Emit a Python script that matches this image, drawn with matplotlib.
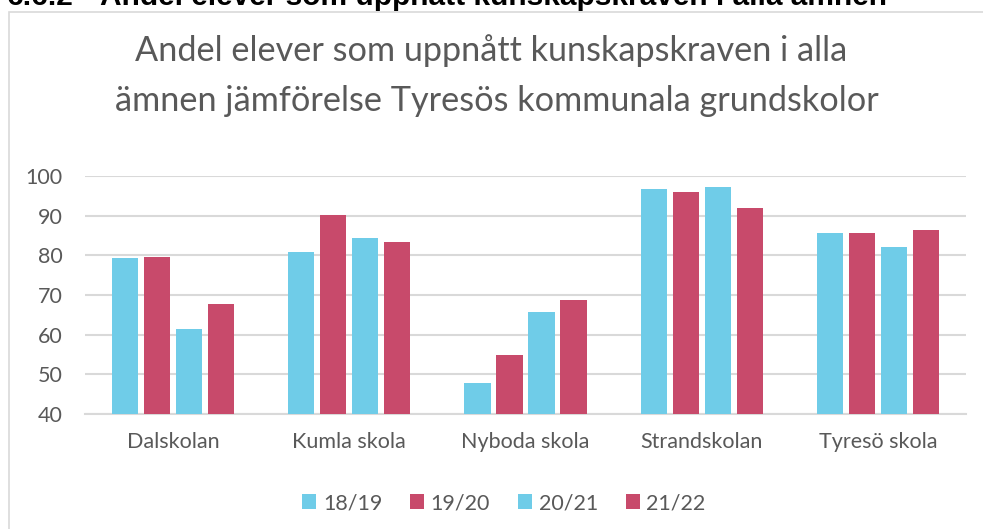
import matplotlib
matplotlib.use("Agg")
import matplotlib.pyplot as plt
import numpy as np

categories = ["Dalskolan", "Kumla skola", "Nyboda skola", "Strandskolan", "Tyresö skola"]
series_names = ["18/19", "19/20", "20/21", "21/22"]
v_1819 = [79.3, 80.8, 47.8, 96.7, 85.6]
v_1920 = [79.6, 90.2, 54.9, 96.0, 85.6]
v_2021 = [61.4, 84.4, 65.7, 97.2, 82.1]
v_2122 = [67.7, 83.4, 68.7, 91.9, 86.4]
yticks = [40, 50, 60, 70, 80, 90, 100]

series = [v_1819, v_1920, v_2021, v_2122]
colors = ["#6FCCE8", "#C84A6B", "#6FCCE8", "#C84A6B"]
txt = "#595959"
font = "Lato"

fig = plt.figure(figsize=(9.83, 5.29), dpi=100)
W, H = 983, 529

# outer chart border
border = plt.Rectangle((8.5 / W, -0.1), 1.2, (1 - 11.5 / H) + 0.1, transform=fig.transFigure,
                       fill=False, edgecolor="#d9d9d9", linewidth=1.2)
fig.add_artist(border)

# clipped heading above the chart
fig.text(7 / W, 1 - 5 / H, "6.6.2", fontsize=21.5, fontweight="bold",
         family="Liberation Sans", color="black", ha="left", va="baseline")
fig.text(100 / W, 1 - 5 / H, "Andel elever som uppnått kunskapskraven i alla ämnen",
         fontsize=21.5, fontweight="bold", family="Liberation Sans", color="black",
         ha="left", va="baseline")

ax = fig.add_axes([85 / W, 1 - 414 / H, (966 - 85) / W, (414 - 176) / H])
x = np.arange(len(categories))
bw = 0.1476
step = 0.1816
for i, (vals, c, name) in enumerate(zip(series, colors, series_names)):
    off = (i - 1.5) * step
    ax.bar(x + off, np.array(vals) - 40, bottom=40, width=bw, color=c, label=name, zorder=3)

ax.set_xlim(-0.5, len(categories) - 0.5)
ax.set_ylim(40, 100)
ax.set_yticks(yticks)
ax.set_yticklabels([str(t) for t in yticks])
ax.set_xticks(x)
ax.set_xticklabels(categories)
ax.grid(axis="y", color="#d9d9d9", linewidth=1.5, zorder=0)
ax.set_axisbelow(True)
for s in ["left", "right", "top"]:
    ax.spines[s].set_visible(False)
ax.spines["bottom"].set_color("#d9d9d9")
ax.spines["bottom"].set_linewidth(1.5)
ax.tick_params(axis="both", length=0, labelsize=15.5, labelcolor=txt)
ax.tick_params(axis="y", pad=16)
ax.tick_params(axis="x", pad=13)
for lab in ax.get_xticklabels() + ax.get_yticklabels():
    lab.set_family(font)

fig.text(0.5, 1 - 51 / H, "Andel elever som uppnått kunskapskraven i alla",
         ha="center", va="center", fontsize=24.7, color=txt, family=font)
fig.text(0.505, 1 - 101 / H, "ämnen jämförelse Tyresös kommunala grundskolor",
         ha="center", va="center", fontsize=24.7, color=txt, family=font)

leg = fig.legend(loc="center", bbox_to_anchor=(504 / W, 1 - 503 / H), ncol=4, frameon=False,
                 prop={"family": font, "size": 15.5}, handlelength=0.65, handleheight=0.65,
                 handletextpad=0.3, columnspacing=1.3)
for t in leg.get_texts():
    t.set_color(txt)

fig.savefig("out.png", dpi=100)
